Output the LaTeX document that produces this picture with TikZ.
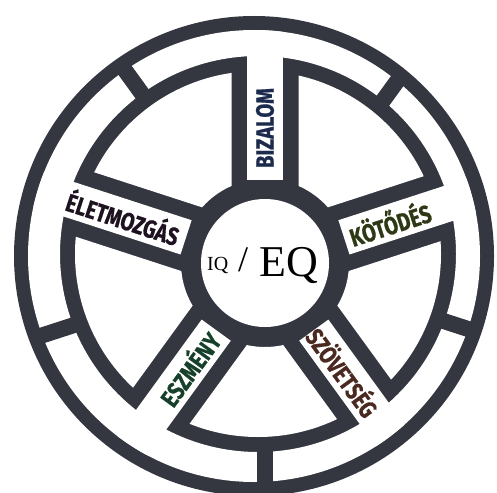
\documentclass[tikz,border=0pt]{standalone}
\usepackage{fontspec}
\newfontfamily\labfont{Fira Sans}[BoldFeatures={FakeBold=0.8}]
\newfontfamily\hubfont{Liberation Serif}
\usetikzlibrary{calc}
\definecolor{wheel}{RGB}{52,54,64}
\definecolor{cBiz}{RGB}{28,43,77}
\definecolor{cElet}{RGB}{30,18,32}
\definecolor{cKot}{RGB}{45,56,20}
\definecolor{cEsz}{RGB}{22,64,42}
\definecolor{cSzo}{RGB}{74,42,32}
\newcommand\wheellabel[1]{\scalebox{0.8}[1]{\labfont\bfseries\fontsize{25}{25}\selectfont #1}}
\tikzset{
  lab/.style={inner sep=0pt, font=\labfont},
  hubtxt/.style={inner sep=0pt, text=black, font=\hubfont}
}
\begin{document}
\begin{tikzpicture}[x=1pt,y=1pt]
\useasboundingbox (0,0) rectangle (497,-492);
\fill[white] (0,0) rectangle (497,-492);
\coordinate (O) at (254,-256);
\coordinate (I) at (258,-254);
\coordinate (H) at (265,-263);
% outer dark disk
\fill[wheel] (O) circle (240);
% tire
\fill[white, even odd rule] (O) circle (226) (I) circle (198);
% spoke bands
\begin{scope}
  \clip (O) circle (226);
  \foreach \a in {90,162,234,306,18} {
    \begin{scope}[shift={(H)}, rotate=\a]
      \fill[white] (83,-18) rectangle (260,18);
    \end{scope}
  }
\end{scope}
% dividers in the tire
\begin{scope}
  \clip (O) circle (230);
  \foreach \a in {54,126,198,270,342} {
    \begin{scope}[shift={(H)}, rotate=\a]
      \fill[wheel] (150,-8) rectangle (260,8);
    \end{scope}
  }
\end{scope}
% sectors
\foreach \a in {90,162,234,306,18} {
  \begin{scope}
    \coordinate (V) at ($(H)+(\a+36:57)$);
    \clip (V) -- ($(V)+(\a:400)$) -- ($(V)+(\a+72:400)$) -- cycle;
    \fill[white, even odd rule] (I) circle (183) (H) circle (84);
  \end{scope}
}
% hub
\fill[white] (H) circle (64);
% labels
\node[lab, text=cBiz, rotate=90] (biz) at ($(H)+(90:135)$) {\wheellabel{BIZALOM}};
\node[lab, text=cElet, rotate=-18] (elet) at ($(H)+(162:149)$) {\wheellabel{ÉLETMOZGÁS}};
\node[lab, text=cKot, rotate=18] (kot) at ($(H)+(18:131)$) {\wheellabel{KÖTŐDÉS}};
\node[lab, text=cEsz, rotate=54] (esz) at ($(H)+(234:130)$) {\wheellabel{ESZMÉNY}};
\node[lab, text=cSzo, rotate=-54] (szo) at ($(H)+(306:134)$) {\wheellabel{SZÖVETSÉG}};
% hub text
\node[hubtxt, anchor=base west] (iq) at (207,-270) {\fontsize{20}{20}\selectfont IQ};
\node[hubtxt, anchor=base] (slash) at (243,-271) {\fontsize{36}{36}\selectfont /};
\node[hubtxt, anchor=base west] (eq) at (259,-276) {\fontsize{44}{44}\selectfont EQ};
\end{tikzpicture}
\end{document}
